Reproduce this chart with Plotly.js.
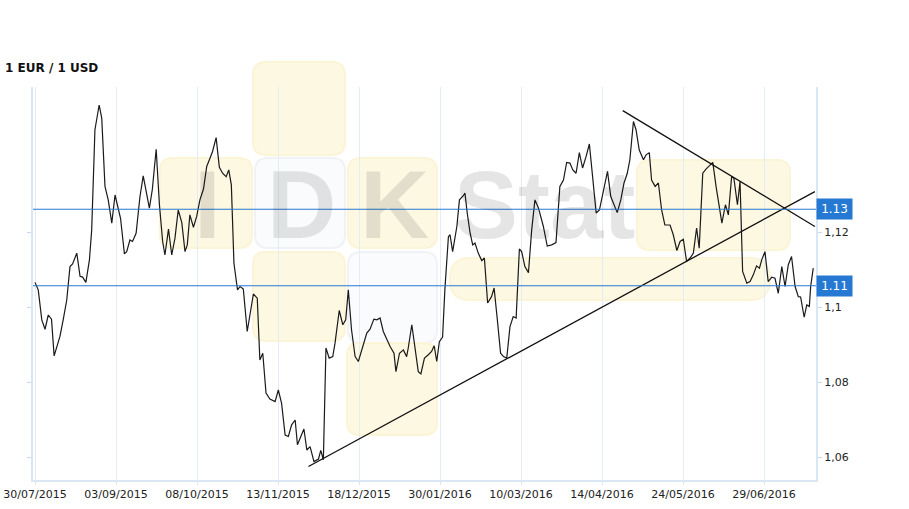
<!DOCTYPE html>
<html>
<head>
<meta charset="utf-8">
<script src="https://cdn.plot.ly/plotly-3.0.1.min.js"></script>
<style>html,body{margin:0;padding:0;background:#fff;}#chart{width:909px;height:509px;}</style>
</head>
<body>
<div id="chart"></div>
<script>
// ---- data: trading-day index and EUR/USD rate ----
const dayIdx = [
 0,1.0,2.1,3.1,4.1,5.1,5.9,7.7,8.7,9.8,
 10.8,11.6,12.9,13.9,14.7,15.7,16.8,17.5,18.5,19.8,
 20.6,21.6,22.6,23.7,24.7,25.7,26.4,27.6,28.3,29.3,
 30.1,31.2,32.4,33.4,34.5,35.3,36.2,37.4,38.4,39.4,
 40.1,41.2,42.2,43.2,44.2,45.3,46.3,47.0,47.8,48.9,
 49.9,50.9,52.0,53.0,54.0,54.8,55.9,56.9,57.9,59.0,
 59.8,60.6,61.4,62.5,63.3,64.3,65.5,66.6,67.4,68.6,
 69.4,70.3,71.3,72.5,74.1,75.1,76.1,77.2,78.2,79.2,
 80.3,81.0,82.0,83.0,83.9,84.9,86.1,87.5,88.2,89.0,
 89.8,90.8,91.9,92.6,93.9,95.0,95.9,96.7,97.7,98.8,
 99.8,100.8,102.4,103.4,104.6,105.5,106.5,107.5,109.6,110.8,
 111.4,112.5,113.7,114.7,115.2,116.3,117.6,118.3,119.1,120.2,
 121.4,122.4,123.2,124.0,124.8,125.8,126.5,127.6,128.1,128.9,
 130.2,131.0,132.2,132.7,133.4,134.3,135.1,135.8,136.8,137.9,
 138.7,139.7,140.9,141.7,142.7,143.7,144.6,145.6,146.6,147.6,
 148.5,149.5,150.2,151.2,152.3,153.3,154.3,155.4,156.9,158.1,
 159.5,160.8,162.0,163.1,164.1,165.1,166.0,167.0,168.0,169.0,
 170.1,171.1,172.1,173.2,174.2,175.4,176.7,177.7,178.7,179.7,
 180.8,181.8,182.8,183.6,184.7,185.5,186.5,187.8,188.6,189.6,
 190.3,191.4,192.4,193.4,194.4,196.0,197.0,198.1,199.1,200.1,
 201.1,202.2,203.2,204.2,205.0,206.1,207.1,208.1,209.2,210.2,
 211.2,212.0,213.1,214.0,215.0,215.7,216.8,217.6,218.4,219.7,
 220.7,221.7,222.7,223.6,224.3,225.3,226.3,227.4,228.4,229.4,
 230.5,231.5,232.5,233.5,234.6,235.6,236.3,237.4,238.2,239.0,
 239.4,240.2
];
const eurUsd = [
 1.1066,1.1046,1.0966,1.0941,1.0979,1.0968,1.0870,1.0922,1.0966,1.1019,
 1.1108,1.1115,1.1144,1.1082,1.1080,1.1066,1.1126,1.1206,1.1473,1.1539,
 1.1504,1.1322,1.1286,1.1224,1.1299,1.1259,1.1237,1.1142,1.1148,1.1179,
 1.1175,1.1197,1.1295,1.1350,1.1299,1.1264,1.1313,1.1421,1.1273,1.1175,
 1.1139,1.1208,1.1139,1.1184,1.1259,1.1226,1.1148,1.1166,1.1246,1.1213,
 1.1242,1.1286,1.1315,1.1375,1.1397,1.1415,1.1452,1.1373,1.1357,1.1348,
 1.1366,1.1326,1.1117,1.1046,1.1055,1.1048,1.0935,1.0997,1.1035,1.1024,
 1.0859,1.0877,1.0771,1.0755,1.0748,1.0779,1.0744,1.0659,1.0655,1.0686,
 1.0699,1.0633,1.0655,1.0675,1.0619,1.0628,1.0588,1.0595,1.0618,1.0593,
 1.0891,1.0864,1.0868,1.0904,1.0991,1.0953,1.0966,1.1046,1.0939,1.0868,
 1.0855,1.0886,1.0931,1.0941,1.0968,1.0966,1.0971,1.0935,1.0895,1.0877,
 1.0828,1.0877,1.0886,1.0868,1.0891,1.0953,1.0877,1.0828,1.0822,1.0864,
 1.0873,1.0882,1.0897,1.0855,1.0908,1.0920,1.1046,1.1188,1.1193,1.1148,
 1.1215,1.1286,1.1297,1.1304,1.1251,1.1197,1.1166,1.1171,1.1144,1.1124,
 1.1131,1.1011,1.1028,1.1051,1.0966,1.0877,1.0868,1.0864,1.0948,1.0975,
 1.0971,1.1155,1.1148,1.1108,1.1092,1.1206,1.1286,1.1264,1.1215,1.1163,
 1.1166,1.1172,1.1322,1.1339,1.1386,1.1384,1.1366,1.1357,1.1412,1.1371,
 1.1402,1.1435,1.1348,1.1251,1.1259,1.1313,1.1362,1.1295,1.1273,1.1252,
 1.1286,1.1331,1.1357,1.1393,1.1495,1.1473,1.1419,1.1393,1.1406,1.1412,
 1.1339,1.1322,1.1331,1.1259,1.1219,1.1219,1.1193,1.1151,1.1175,1.1181,
 1.1122,1.1131,1.1144,1.1211,1.1157,1.1357,1.1368,1.1377,1.1386,1.1322,
 1.1268,1.1224,1.1273,1.1246,1.1347,1.1344,1.1273,1.1335,1.1095,1.1064,
 1.1068,1.1086,1.1110,1.1104,1.1126,1.1148,1.1068,1.1080,1.1077,1.1037,
 1.1108,1.1055,1.1113,1.1135,1.1055,1.1028,1.1027,1.0973,1.1006,1.1002,
 1.1055,1.1104
];
// trend lines (endpoints in day index / rate)
const supportX = [84.4, 240.7];
const supportY = [1.0575, 1.1308];
const resistX = [181.4, 240.7];
const resistY = [1.1524, 1.1215];
// horizontal levels
const levelValues = [1.1261, 1.1057];
const levelLabels = ['1.13', '1.11'];
// axis ticks
const xTickIdx = [0, 25, 50, 75, 100, 125, 150, 175, 200, 225];
const xTickLabels = ['30/07/2015','03/09/2015','08/10/2015','13/11/2015','18/12/2015','30/01/2016','10/03/2016','14/04/2016','24/05/2016','29/06/2016'];
const yTickVals = [1.06, 1.08, 1.10, 1.12];
const yTickLabels = ['1,06', '1,08', '1,1', '1,12'];

// ---- layout helpers (pixel -> paper) for the watermark ----
const L = 33, R = 816, T = 87, B = 480;
const W = R - L, H = B - T;
function pxX(x) { return (x - L) / W; }
function pxY(y) { return (B - y) / H; }
function rr(x0, y0, x1, y1, r) {
  const p = (x, y) => pxX(x) + ',' + pxY(y);
  return 'M' + p(x0 + r, y0) + ' L' + p(x1 - r, y0) + ' Q' + p(x1, y0) + ' ' + p(x1, y0 + r) +
    ' L' + p(x1, y1 - r) + ' Q' + p(x1, y1) + ' ' + p(x1 - r, y1) +
    ' L' + p(x0 + r, y1) + ' Q' + p(x0, y1) + ' ' + p(x0, y1 - r) +
    ' L' + p(x0, y0 + r) + ' Q' + p(x0, y0) + ' ' + p(x0 + r, y0) + ' Z';
}
const yel = { fill: '#fdf8e2', line: '#fcf4d6' };
const wht = { fill: '#fafbfc', line: '#f0f2f5' };
const boxes = [
  [253, 62, 345, 155, yel], [160, 158, 252, 248, yel], [255, 158, 345, 248, wht],
  [348, 158, 437, 248, yel], [253, 252, 345, 341, yel], [348, 252, 437, 343, wht],
  [347, 343, 437, 435, yel], [637, 160, 790, 250, yel], [450, 258, 770, 300, yel]
];
const shapes = boxes.map(b => ({
  type: 'path', xref: 'paper', yref: 'paper', layer: 'below',
  path: rr(b[0], b[1], b[2], b[3], b[0] === 450 ? 20 : 13),
  fillcolor: b[4].fill, line: { color: b[4].line, width: 2 }
}));
levelValues.forEach(v => shapes.push({
  type: 'line', xref: 'paper', yref: 'y', x0: 0, x1: 1, y0: v, y1: v,
  line: { color: '#2679d2', width: 1.2 }, layer: 'above'
}));

const wmFont = { family: 'Liberation Sans, Arial, sans-serif', size: 96, color: 'rgba(0,0,0,0.10)', weight: 700 };
const annotations = [
  { text: 'I', x: pxX(207), y: pxY(204) },
  { text: 'D', x: pxX(301), y: pxY(204) },
  { text: 'K', x: pxX(394), y: pxY(204) },
  { text: 'Stat', x: pxX(544), y: pxY(204) }
].map(a => Object.assign({ xref: 'paper', yref: 'paper', showarrow: false, xanchor: 'center', yanchor: 'middle', font: wmFont }, a));
levelValues.forEach((v, i) => annotations.push({
  xref: 'paper', yref: 'y', x: 1, y: v, xanchor: 'left', yanchor: 'middle', showarrow: false,
  text: levelLabels[i], bgcolor: '#2679d2', width: 31, height: 16, borderpad: 2,
  font: { family: 'DejaVu Sans, Verdana, sans-serif', size: 12, color: '#ffffff' }
}));

const traces = [
  { x: dayIdx, y: eurUsd, type: 'scatter', mode: 'lines', line: { color: '#1a1a1a', width: 1.2 }, hoverinfo: 'skip' },
  { x: supportX, y: supportY, type: 'scatter', mode: 'lines', line: { color: '#111', width: 1.3 }, hoverinfo: 'skip' },
  { x: resistX, y: resistY, type: 'scatter', mode: 'lines', line: { color: '#111', width: 1.3 }, hoverinfo: 'skip' }
];

const axisFont = { family: 'DejaVu Sans, Verdana, sans-serif', size: 11, color: '#222' };
const layout = {
  width: 909, height: 509,
  margin: { l: L, r: 909 - R, t: T, b: 509 - B, pad: 0 },
  paper_bgcolor: '#fff', plot_bgcolor: 'rgba(0,0,0,0)',
  showlegend: false,
  title: { text: '1 EUR / 1 USD', xref: 'container', yref: 'container', x: 5 / 909, xanchor: 'left', y: 1 - 68 / 509, yanchor: 'middle',
    font: { family: 'DejaVu Sans, Verdana, sans-serif', size: 12, color: '#111', weight: 700 } },
  xaxis: {
    range: [(L - 35) / 3.24, (R - 35) / 3.24], tickmode: 'array', tickvals: xTickIdx, ticktext: xTickLabels,
    showgrid: true, gridcolor: '#e4edf6', gridwidth: 1, zeroline: false,
    showline: true, linecolor: '#d9e6f3', linewidth: 2, ticks: 'outside', ticklen: 3, tickcolor: '#d9e6f3',
    tickfont: axisFont, fixedrange: true
  },
  yaxis: {
    side: 'right', range: [1.0539, 1.1587], tickmode: 'array', tickvals: yTickVals, ticktext: yTickLabels,
    showgrid: false, zeroline: false, showline: true, linecolor: '#d9e6f3', linewidth: 2, mirror: 'ticks',
    ticks: 'outside', ticklen: 4, tickcolor: '#c9d9ea', tickfont: axisFont, fixedrange: true
  },
  shapes: shapes,
  annotations: annotations
};
Plotly.newPlot('chart', traces, layout, { displayModeBar: false, staticPlot: true });
</script>
</body>
</html>
